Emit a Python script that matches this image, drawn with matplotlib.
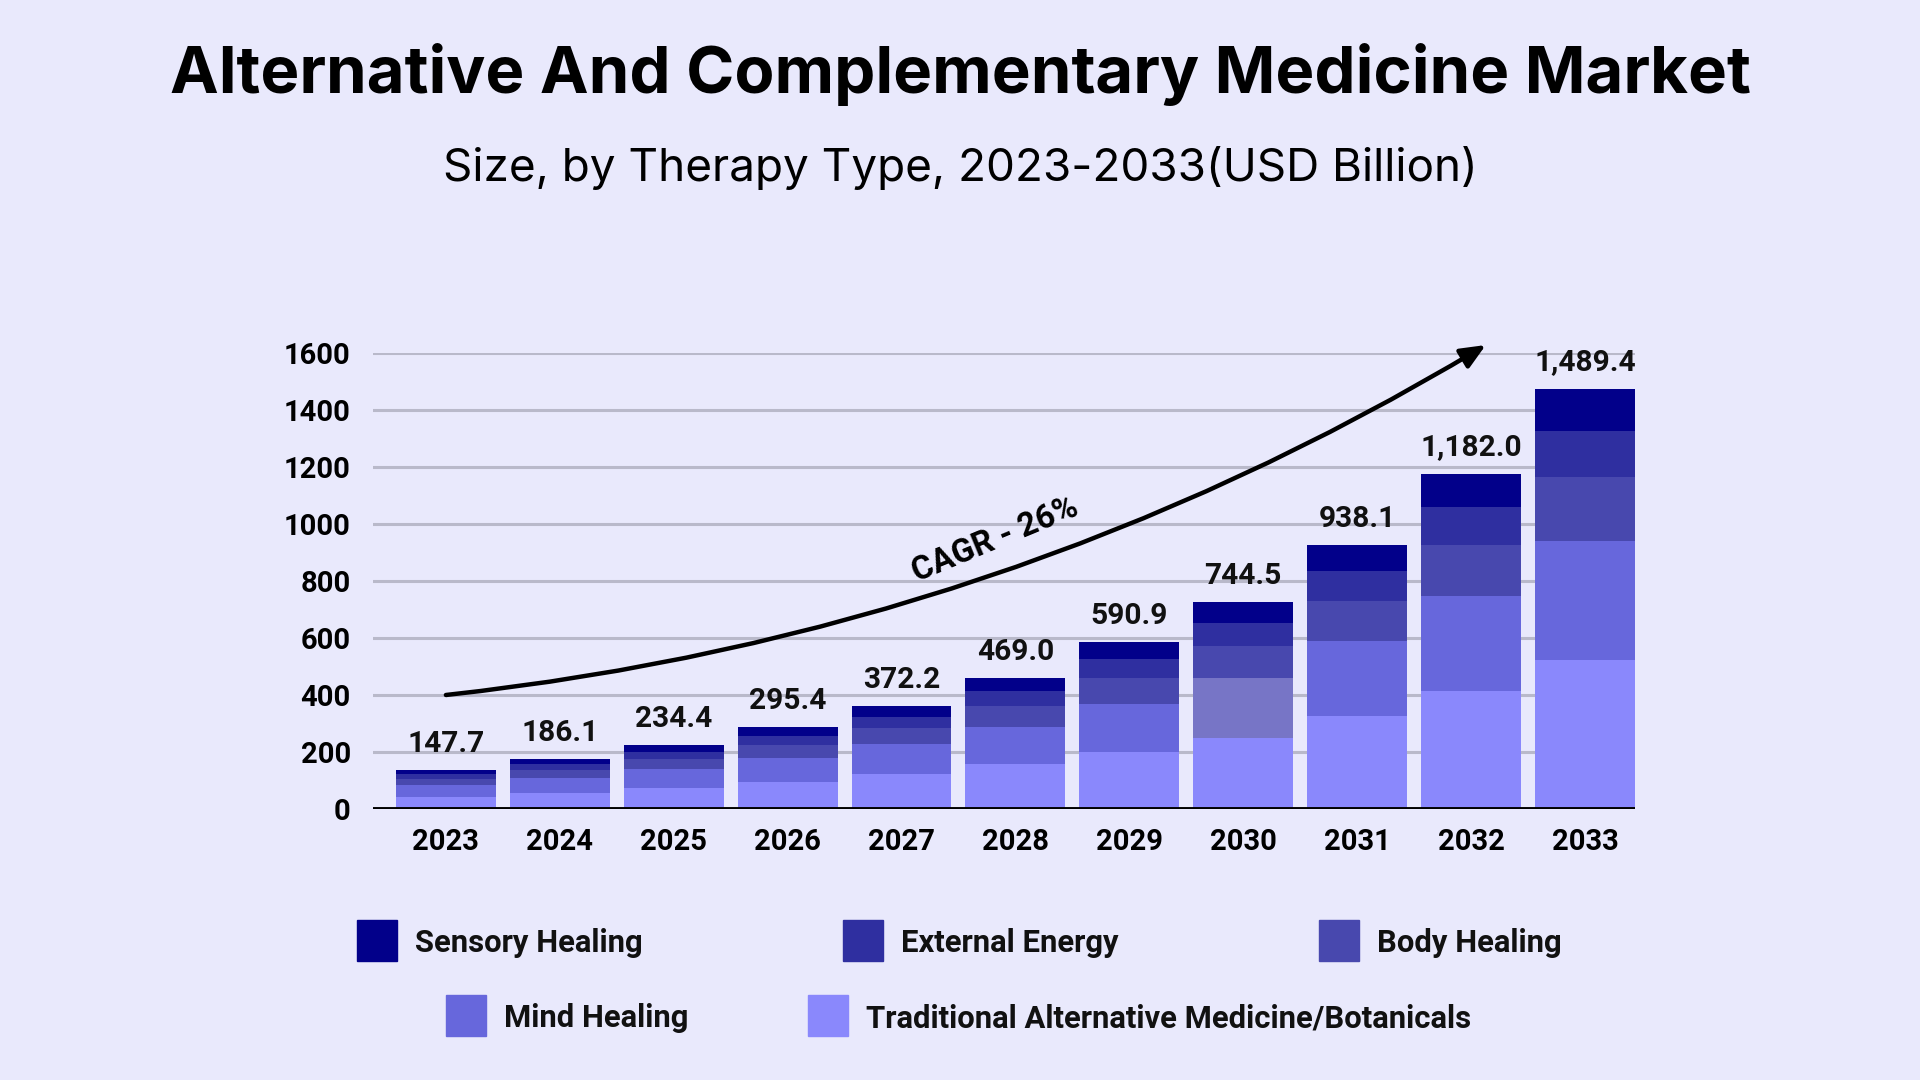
import numpy as np
import matplotlib.pyplot as plt
from matplotlib.patches import Rectangle

# dados do gráfico
anos = ['2023', '2024', '2025', '2026', '2027', '2028', '2029', '2030', '2031', '2032', '2033']
totais = ['147.7', '186.1', '234.4', '295.4', '372.2', '469.0', '590.9', '744.5', '938.1', '1,182.0', '1,489.4']

tradicional = [42.1, 56.2, 73.7, 95.9, 121.7, 156.8, 200.1, 250.4, 326.3, 415.2, 521.7]
mente = [41.0, 52.7, 66.7, 83.1, 105.3, 131.0, 168.5, 208.3, 264.3, 333.3, 417.5]
corpo = [23.4, 29.3, 33.9, 44.5, 57.3, 72.5, 90.1, 112.3, 140.4, 179.0, 224.6]
energia = [16.4, 21.1, 26.9, 33.9, 38.6, 52.7, 66.7, 80.7, 105.3, 132.2, 163.7]
sensorial = [14.0, 16.4, 23.4, 30.4, 37.4, 45.6, 59.7, 73.7, 91.2, 117.0, 147.4]

nomes = ['Traditional Alternative Medicine/Botanicals', 'Mind Healing', 'Body Healing',
         'External Energy', 'Sensory Healing']
cores = ['#8a88fc', '#6767dc', '#4848ae', '#2f2fa0', '#02008a']
series = [tradicional, mente, corpo, energia, sensorial]

fundo = '#e9e9fc'
fonte = 'Roboto'

fig = plt.figure(figsize=(19.2, 10.8), dpi=100, facecolor=fundo)
ax = fig.add_axes([373 / 1920, 1 - 809 / 1080, (1635 - 373) / 1920, (809 - 353) / 1080])
ax.set_facecolor(fundo)

x = np.arange(len(anos))
base = np.zeros(len(anos))
barras = []
for valores, cor, nome in zip(series, cores, nomes):
    b = ax.bar(x, valores, width=0.877, bottom=base, color=cor, label=nome, zorder=3)
    barras.append(b)
    base = base + np.array(valores)

# 2030 mind healing segment has a greyish tone in the original
barras[1][7].set_facecolor('#7775c6')

for xi, topo, txt in zip(x, base, totais):
    ax.annotate(txt, (xi, topo), xytext=(0, 13), textcoords='offset points',
                ha='center', va='baseline', fontsize=21.5, fontweight='semibold',
                family=fonte, color='#111111')

ax.set_xlim(-0.64, 10.44)
ax.set_ylim(0, 1600)
ax.set_yticks(range(0, 1601, 200))
ax.set_xticks(x)
ax.set_xticklabels(anos)
ax.grid(axis='y', color='#b9b9ca', linewidth=2.2, zorder=1)
ax.axhline(0, color='black', linewidth=2.8, zorder=4)
for s in ax.spines.values():
    s.set_visible(False)
ax.tick_params(axis='both', length=0, labelsize=21)
ax.tick_params(axis='y', pad=16)
ax.tick_params(axis='x', pad=14)
for lbl in ax.get_xticklabels() + ax.get_yticklabels():
    lbl.set_fontweight('bold')
    lbl.set_family(fonte)

# seta do CAGR
ax.annotate('', xy=(9.13, 1628), xytext=(0, 400),
            arrowprops=dict(arrowstyle='-|>,head_length=1.5,head_width=0.65', color='black',
                            lw=3.2, connectionstyle='arc3,rad=0.11', shrinkA=0, shrinkB=0),
            annotation_clip=False, zorder=5)
ax.text(4.82, 945, 'CAGR - 26%', rotation=22.5, ha='center', va='center', fontsize=23.5,
        fontweight='semibold', family=fonte, zorder=5)

# títulos
fig.text(0.5, 1 - 74 / 1080, 'Alternative And Complementary Medicine Market', ha='center',
         va='center', fontsize=47, fontweight='bold', family='Inter')
fig.text(0.5, 1 - 168 / 1080, 'Size, by Therapy Type, 2023-2033(USD Billion)', ha='center',
         va='center', fontsize=33, family='Inter')

# legenda manual
posicoes = [(808, 1016), (446, 1016), (1319, 941), (843, 941), (357, 941)]
for (px, py), cor, nome in zip(posicoes, cores, nomes):
    fig.patches.append(Rectangle((px / 1920, 1 - (py + 20) / 1080), 40 / 1920, 41 / 1080,
                                 transform=fig.transFigure, color=cor, figure=fig))
    fig.text((px + 58) / 1920, 1 - (py + 2) / 1080, nome, ha='left', va='center', fontsize=22.3,
             fontweight='semibold', family=fonte, color='#111111')

fig.savefig('out.png', dpi=100, facecolor=fundo)
